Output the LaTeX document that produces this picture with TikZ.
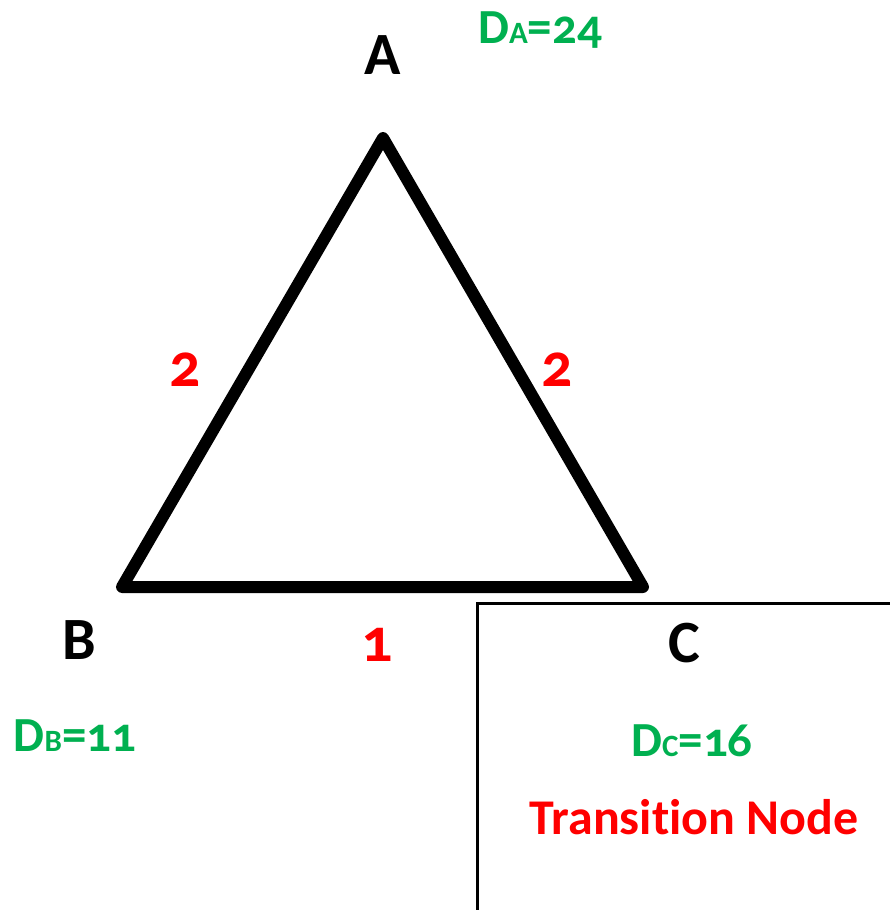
\documentclass[tikz,border=0pt]{standalone}
\usepackage{fontspec}
\setmainfont{Carlito}[Numbers=OldStyle,Ligatures=NoCommon]
\definecolor{offgreen}{RGB}{0,176,80}
\definecolor{offred}{RGB}{255,0,0}
\tikzset{
  vert/.style={font=\fontsize{60}{60}\selectfont\bfseries, text=black, inner sep=0pt},
  dist/.style={font=\fontsize{49}{49}\selectfont\bfseries, text=offgreen, inner sep=0pt, anchor=base},
  wt/.style={font=\fontsize{62}{62}\selectfont\bfseries, text=offred, inner sep=0pt},
  edge/.style={line width=12pt, line join=round, line cap=round},
}
\newcommand{\sub}[1]{{\fontsize{31}{31}\selectfont #1}}
\begin{document}
\begin{tikzpicture}[x=1pt,y=-1pt]
\useasboundingbox (0,0) rectangle (889,910);
% transition box
\draw[line width=3pt] (477,912) -- (477,603) -- (892,603);
% triangle
\coordinate (A) at (383,138);
\coordinate (B) at (122,587);
\coordinate (C) at (643,587);
\draw[edge] (A) -- (B) -- (C) -- cycle;
% vertex labels
\node[vert] (la) at (383,55) {A};
\node[vert] (lb) at (79,640) {B};
\node[vert] (lc) at (684,643) {C};
% distances
\node[dist] (da) at (540,43) {D\sub{A}=24};
\node[dist] (db) at (75,751) {D\sub{B}=11};
\node[dist] (dc) at (692,756) {D\sub{C}=16};
\node[font=\fontsize{50}{50}\selectfont\bfseries, text=offred, inner sep=0pt, anchor=base] (tn) at (694,834) {Transition Node};
% edge weights
\node[wt] (wab) at (185,370) {2};
\node[wt] (wac) at (557,370) {2};
\node[wt] (wbc) at (377,645) {1};
\end{tikzpicture}
\end{document}
